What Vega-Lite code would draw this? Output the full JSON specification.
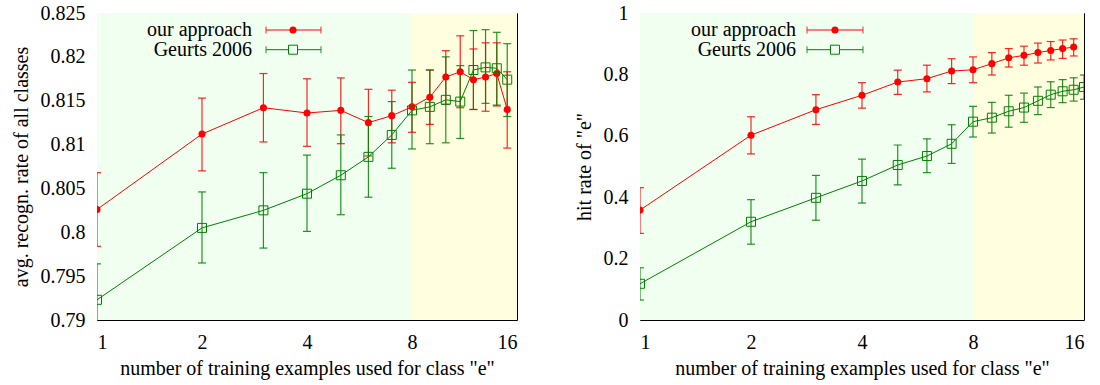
{
  "$schema": "https://vega.github.io/schema/vega-lite/v6.json",
  "background": "white",
  "padding": {"left": 10, "top": 2, "right": 5, "bottom": 5},
  "config": {
    "font": "Liberation Serif",
    "view": {"stroke": "black", "strokeWidth": 1},
    "axis": {"labelFont": "Liberation Serif", "titleFont": "Liberation Serif", "labelFontSize": 20, "titleFontSize": 20, "labelColor": "black", "titleColor": "black", "titleFontWeight": "normal", "grid": false, "domain": false, "ticks": false, "labelPadding": 12},
    "axisY": {"titlePadding": 9},
    "axisX": {"titlePadding": 6}
  },
  "datasets": {
    "bg": [
      {"x": 1, "x1": 8, "zone": "few"},
      {"x": 8, "x1": 16, "zone": "many"}
    ],
    "legend": [
      {"series": "our approach", "rank": 1},
      {"series": "Geurts 2006", "rank": 2}
    ],
    "avg": [
      {"series": "our approach", "x": 1, "y": 0.8026, "lo": 0.7984, "hi": 0.8068},
      {"series": "our approach", "x": 2, "y": 0.8112, "lo": 0.8070, "hi": 0.8153},
      {"series": "our approach", "x": 3, "y": 0.8142, "lo": 0.8103, "hi": 0.8181},
      {"series": "our approach", "x": 4, "y": 0.8136, "lo": 0.8098, "hi": 0.8175},
      {"series": "our approach", "x": 5, "y": 0.8139, "lo": 0.8101, "hi": 0.8176},
      {"series": "our approach", "x": 6, "y": 0.8125, "lo": 0.8087, "hi": 0.8163},
      {"series": "our approach", "x": 7, "y": 0.8133, "lo": 0.8102, "hi": 0.8162},
      {"series": "our approach", "x": 8, "y": 0.8143, "lo": 0.8114, "hi": 0.8171},
      {"series": "our approach", "x": 9, "y": 0.8154, "lo": 0.8123, "hi": 0.8185},
      {"series": "our approach", "x": 10, "y": 0.8177, "lo": 0.8146, "hi": 0.8207},
      {"series": "our approach", "x": 11, "y": 0.8183, "lo": 0.8142, "hi": 0.8224},
      {"series": "our approach", "x": 12, "y": 0.8174, "lo": 0.8140, "hi": 0.8209},
      {"series": "our approach", "x": 13, "y": 0.8177, "lo": 0.8138, "hi": 0.8216},
      {"series": "our approach", "x": 14, "y": 0.8181, "lo": 0.8144, "hi": 0.8216},
      {"series": "our approach", "x": 15, "y": 0.8140, "lo": 0.8096, "hi": 0.8183},
      {"series": "Geurts 2006", "x": 1, "y": 0.7923, "lo": 0.7882, "hi": 0.7964},
      {"series": "Geurts 2006", "x": 2, "y": 0.8005, "lo": 0.7965, "hi": 0.8046},
      {"series": "Geurts 2006", "x": 3, "y": 0.8025, "lo": 0.7982, "hi": 0.8068},
      {"series": "Geurts 2006", "x": 4, "y": 0.8044, "lo": 0.8001, "hi": 0.8088},
      {"series": "Geurts 2006", "x": 5, "y": 0.8065, "lo": 0.8020, "hi": 0.8111},
      {"series": "Geurts 2006", "x": 6, "y": 0.8086, "lo": 0.8040, "hi": 0.8132},
      {"series": "Geurts 2006", "x": 7, "y": 0.8111, "lo": 0.8073, "hi": 0.8149},
      {"series": "Geurts 2006", "x": 8, "y": 0.8139, "lo": 0.8095, "hi": 0.8185},
      {"series": "Geurts 2006", "x": 9, "y": 0.8143, "lo": 0.8101, "hi": 0.8185},
      {"series": "Geurts 2006", "x": 10, "y": 0.8151, "lo": 0.8102, "hi": 0.8200},
      {"series": "Geurts 2006", "x": 11, "y": 0.8149, "lo": 0.8107, "hi": 0.8190},
      {"series": "Geurts 2006", "x": 12, "y": 0.8185, "lo": 0.8140, "hi": 0.8230},
      {"series": "Geurts 2006", "x": 13, "y": 0.8188, "lo": 0.8147, "hi": 0.8231},
      {"series": "Geurts 2006", "x": 14, "y": 0.8187, "lo": 0.8145, "hi": 0.8228},
      {"series": "Geurts 2006", "x": 15, "y": 0.8174, "lo": 0.8132, "hi": 0.8215}
    ],
    "hit": [
      {"series": "our approach", "x": 1, "y": 0.358, "lo": 0.282, "hi": 0.431},
      {"series": "our approach", "x": 2, "y": 0.602, "lo": 0.541, "hi": 0.662},
      {"series": "our approach", "x": 3, "y": 0.685, "lo": 0.637, "hi": 0.734},
      {"series": "our approach", "x": 4, "y": 0.732, "lo": 0.690, "hi": 0.773},
      {"series": "our approach", "x": 5, "y": 0.775, "lo": 0.735, "hi": 0.814},
      {"series": "our approach", "x": 6, "y": 0.786, "lo": 0.743, "hi": 0.830},
      {"series": "our approach", "x": 7, "y": 0.811, "lo": 0.770, "hi": 0.851},
      {"series": "our approach", "x": 8, "y": 0.815, "lo": 0.773, "hi": 0.857},
      {"series": "our approach", "x": 9, "y": 0.835, "lo": 0.798, "hi": 0.871},
      {"series": "our approach", "x": 10, "y": 0.854, "lo": 0.824, "hi": 0.884},
      {"series": "our approach", "x": 11, "y": 0.862, "lo": 0.830, "hi": 0.892},
      {"series": "our approach", "x": 12, "y": 0.871, "lo": 0.837, "hi": 0.902},
      {"series": "our approach", "x": 13, "y": 0.878, "lo": 0.847, "hi": 0.907},
      {"series": "our approach", "x": 14, "y": 0.884, "lo": 0.852, "hi": 0.912},
      {"series": "our approach", "x": 15, "y": 0.889, "lo": 0.860, "hi": 0.916},
      {"series": "Geurts 2006", "x": 1, "y": 0.118, "lo": 0.065, "hi": 0.170},
      {"series": "Geurts 2006", "x": 2, "y": 0.320, "lo": 0.247, "hi": 0.392},
      {"series": "Geurts 2006", "x": 3, "y": 0.398, "lo": 0.325, "hi": 0.471},
      {"series": "Geurts 2006", "x": 4, "y": 0.453, "lo": 0.381, "hi": 0.524},
      {"series": "Geurts 2006", "x": 5, "y": 0.505, "lo": 0.440, "hi": 0.570},
      {"series": "Geurts 2006", "x": 6, "y": 0.534, "lo": 0.480, "hi": 0.590},
      {"series": "Geurts 2006", "x": 7, "y": 0.574, "lo": 0.510, "hi": 0.636},
      {"series": "Geurts 2006", "x": 8, "y": 0.646, "lo": 0.596, "hi": 0.696},
      {"series": "Geurts 2006", "x": 9, "y": 0.659, "lo": 0.609, "hi": 0.709},
      {"series": "Geurts 2006", "x": 10, "y": 0.680, "lo": 0.628, "hi": 0.732},
      {"series": "Geurts 2006", "x": 11, "y": 0.692, "lo": 0.644, "hi": 0.739},
      {"series": "Geurts 2006", "x": 12, "y": 0.714, "lo": 0.669, "hi": 0.759},
      {"series": "Geurts 2006", "x": 13, "y": 0.734, "lo": 0.692, "hi": 0.776},
      {"series": "Geurts 2006", "x": 14, "y": 0.745, "lo": 0.708, "hi": 0.783},
      {"series": "Geurts 2006", "x": 15, "y": 0.750, "lo": 0.713, "hi": 0.789},
      {"series": "Geurts 2006", "x": 16, "y": 0.759, "lo": 0.719, "hi": 0.798}
    ]
  },
  "spacing": 123,
  "bounds": "flush",
  "resolve": {"scale": {"y": "independent", "stroke": "independent", "fill": "independent"}},
  "hconcat": [
    {
      "width": 420,
      "height": 307,
      "resolve": {"scale": {"y": "independent"}},
      "layer": [
        {
          "data": {"name": "avg"},
          "layer": [
            {"data": {"name": "bg"}, "transform": [{"filter": "datum.zone === 'few'"}], "mark": {"type": "rect", "fill": "#f0fff0"}, "encoding": {"x": {"field": "x", "type": "quantitative", "title": "number of training examples used for class \"e\"", "scale": {"type": "log", "base": 2, "domain": [1, 16], "nice": false}, "axis": {"values": [1, 2, 4, 8, 16], "format": "d"}}, "x2": {"field": "x1"}}},
            {"data": {"name": "bg"}, "transform": [{"filter": "datum.zone === 'many'"}], "mark": {"type": "rect", "fill": "#ffffe0"}, "encoding": {"x": {"field": "x", "type": "quantitative", "title": "number of training examples used for class \"e\"", "scale": {"type": "log", "base": 2, "domain": [1, 16], "nice": false}}, "x2": {"field": "x1"}}},
            {"mark": {"type": "rule", "clip": true, "opacity": 0.85, "strokeWidth": 1.2}, "encoding": {"x": {"field": "x", "type": "quantitative", "title": "number of training examples used for class \"e\""}, "y": {"field": "lo", "type": "quantitative", "title": "avg. recogn. rate of all classes", "scale": {"domain": [0.79, 0.825], "nice": false, "zero": false}, "axis": {"values": [0.79, 0.795, 0.8, 0.805, 0.81, 0.815, 0.82, 0.825], "format": "~g"}}, "y2": {"field": "hi"}, "stroke": {"field": "series", "type": "nominal", "scale": {"domain": ["our approach", "Geurts 2006"], "range": ["#ff0000", "#008000"]}, "legend": null}}},
            {"mark": {"type": "tick", "orient": "horizontal", "clip": true, "opacity": 0.85, "thickness": 1.2}, "encoding": {"x": {"field": "x", "type": "quantitative", "title": "number of training examples used for class \"e\""}, "y": {"field": "lo", "type": "quantitative", "title": "avg. recogn. rate of all classes", "scale": {"domain": [0.79, 0.825], "nice": false, "zero": false}}, "size": {"value": 8}, "fill": {"field": "series", "type": "nominal", "scale": {"domain": ["our approach", "Geurts 2006"], "range": ["#ff0000", "#008000"]}, "legend": null}}},
            {"mark": {"type": "tick", "orient": "horizontal", "clip": true, "opacity": 0.85, "thickness": 1.2}, "encoding": {"x": {"field": "x", "type": "quantitative", "title": "number of training examples used for class \"e\""}, "y": {"field": "hi", "type": "quantitative", "title": "avg. recogn. rate of all classes", "scale": {"domain": [0.79, 0.825], "nice": false, "zero": false}}, "size": {"value": 8}, "fill": {"field": "series", "type": "nominal", "scale": {"domain": ["our approach", "Geurts 2006"], "range": ["#ff0000", "#008000"]}, "legend": null}}},
            {"mark": {"type": "line", "clip": true, "strokeWidth": 1}, "encoding": {"x": {"field": "x", "type": "quantitative", "title": "number of training examples used for class \"e\""}, "y": {"field": "y", "type": "quantitative", "title": "avg. recogn. rate of all classes", "scale": {"domain": [0.79, 0.825], "nice": false, "zero": false}}, "stroke": {"field": "series", "type": "nominal", "scale": {"domain": ["our approach", "Geurts 2006"], "range": ["#ff0000", "#008000"]}, "legend": null}}},
            {"transform": [{"filter": "datum.series === 'our approach'"}], "mark": {"type": "point", "shape": "circle", "filled": true, "color": "#ff0000", "size": 50, "opacity": 1, "clip": true}, "encoding": {"x": {"field": "x", "type": "quantitative", "title": "number of training examples used for class \"e\""}, "y": {"field": "y", "type": "quantitative", "title": "avg. recogn. rate of all classes", "scale": {"domain": [0.79, 0.825], "nice": false, "zero": false}}}},
            {"transform": [{"filter": "datum.series === 'Geurts 2006'"}], "mark": {"type": "point", "shape": "square", "filled": false, "color": "#008000", "size": 81, "strokeWidth": 1, "opacity": 1, "clip": true}, "encoding": {"x": {"field": "x", "type": "quantitative", "title": "number of training examples used for class \"e\""}, "y": {"field": "y", "type": "quantitative", "title": "avg. recogn. rate of all classes", "scale": {"domain": [0.79, 0.825], "nice": false, "zero": false}}}}
          ]
        },
        {
          "data": {"name": "legend"},
          "layer": [
            {"mark": {"type": "text", "align": "right", "baseline": "middle", "font": "Liberation Serif", "fontSize": 20, "color": "black"}, "encoding": {"x": {"datum": 2.782, "type": "quantitative"}, "y": {"field": "rank", "type": "quantitative", "scale": {"domain": [0.137, 15.721], "reverse": true, "nice": false, "zero": false}, "axis": null}, "text": {"field": "series"}}},
            {"mark": {"type": "rule", "strokeWidth": 1}, "encoding": {"x": {"datum": 3.052, "type": "quantitative"}, "x2": {"datum": 4.387}, "y": {"field": "rank", "type": "quantitative", "scale": {"domain": [0.137, 15.721], "reverse": true, "nice": false, "zero": false}, "axis": null}, "stroke": {"field": "series", "type": "nominal", "scale": {"domain": ["our approach", "Geurts 2006"], "range": ["#ff0000", "#008000"]}, "legend": null}}},
            {"mark": {"type": "tick", "orient": "vertical", "thickness": 1.2}, "encoding": {"x": {"datum": 3.052, "type": "quantitative"}, "y": {"field": "rank", "type": "quantitative", "scale": {"domain": [0.137, 15.721], "reverse": true, "nice": false, "zero": false}, "axis": null}, "size": {"value": 7}, "fill": {"field": "series", "type": "nominal", "scale": {"domain": ["our approach", "Geurts 2006"], "range": ["#ff0000", "#008000"]}, "legend": null}}},
            {"mark": {"type": "tick", "orient": "vertical", "thickness": 1.2}, "encoding": {"x": {"datum": 4.387, "type": "quantitative"}, "y": {"field": "rank", "type": "quantitative", "scale": {"domain": [0.137, 15.721], "reverse": true, "nice": false, "zero": false}, "axis": null}, "size": {"value": 7}, "fill": {"field": "series", "type": "nominal", "scale": {"domain": ["our approach", "Geurts 2006"], "range": ["#ff0000", "#008000"]}, "legend": null}}},
            {"transform": [{"filter": "datum.series === 'our approach'"}], "mark": {"type": "point", "shape": "circle", "filled": true, "color": "#ff0000", "size": 50, "opacity": 1}, "encoding": {"x": {"datum": 3.647, "type": "quantitative"}, "y": {"field": "rank", "type": "quantitative", "scale": {"domain": [0.137, 15.721], "reverse": true, "nice": false, "zero": false}, "axis": null}}},
            {"transform": [{"filter": "datum.series === 'Geurts 2006'"}], "mark": {"type": "point", "shape": "square", "filled": true, "fill": "#f0fff0", "stroke": "#008000", "size": 81, "strokeWidth": 1, "opacity": 1}, "encoding": {"x": {"datum": 3.647, "type": "quantitative"}, "y": {"field": "rank", "type": "quantitative", "scale": {"domain": [0.137, 15.721], "reverse": true, "nice": false, "zero": false}, "axis": null}}}
          ]
        }
      ]
    },
    {
      "width": 444,
      "height": 307,
      "resolve": {"scale": {"y": "independent"}},
      "layer": [
        {
          "data": {"name": "hit"},
          "layer": [
            {"data": {"name": "bg"}, "transform": [{"filter": "datum.zone === 'few'"}], "mark": {"type": "rect", "fill": "#f0fff0"}, "encoding": {"x": {"field": "x", "type": "quantitative", "title": "number of training examples used for class \"e\"", "scale": {"type": "log", "base": 2, "domain": [1, 16], "nice": false}, "axis": {"values": [1, 2, 4, 8, 16], "format": "d"}}, "x2": {"field": "x1"}}},
            {"data": {"name": "bg"}, "transform": [{"filter": "datum.zone === 'many'"}], "mark": {"type": "rect", "fill": "#ffffe0"}, "encoding": {"x": {"field": "x", "type": "quantitative", "title": "number of training examples used for class \"e\"", "scale": {"type": "log", "base": 2, "domain": [1, 16], "nice": false}}, "x2": {"field": "x1"}}},
            {"mark": {"type": "rule", "clip": true, "opacity": 0.85, "strokeWidth": 1.2}, "encoding": {"x": {"field": "x", "type": "quantitative", "title": "number of training examples used for class \"e\""}, "y": {"field": "lo", "type": "quantitative", "title": "hit rate of \"e\"", "scale": {"domain": [0, 1], "nice": false, "zero": false}, "axis": {"values": [0, 0.2, 0.4, 0.6, 0.8, 1], "format": "~g"}}, "y2": {"field": "hi"}, "stroke": {"field": "series", "type": "nominal", "scale": {"domain": ["our approach", "Geurts 2006"], "range": ["#ff0000", "#008000"]}, "legend": null}}},
            {"mark": {"type": "tick", "orient": "horizontal", "clip": true, "opacity": 0.85, "thickness": 1.2}, "encoding": {"x": {"field": "x", "type": "quantitative", "title": "number of training examples used for class \"e\""}, "y": {"field": "lo", "type": "quantitative", "title": "hit rate of \"e\"", "scale": {"domain": [0, 1], "nice": false, "zero": false}}, "size": {"value": 8}, "fill": {"field": "series", "type": "nominal", "scale": {"domain": ["our approach", "Geurts 2006"], "range": ["#ff0000", "#008000"]}, "legend": null}}},
            {"mark": {"type": "tick", "orient": "horizontal", "clip": true, "opacity": 0.85, "thickness": 1.2}, "encoding": {"x": {"field": "x", "type": "quantitative", "title": "number of training examples used for class \"e\""}, "y": {"field": "hi", "type": "quantitative", "title": "hit rate of \"e\"", "scale": {"domain": [0, 1], "nice": false, "zero": false}}, "size": {"value": 8}, "fill": {"field": "series", "type": "nominal", "scale": {"domain": ["our approach", "Geurts 2006"], "range": ["#ff0000", "#008000"]}, "legend": null}}},
            {"mark": {"type": "line", "clip": true, "strokeWidth": 1}, "encoding": {"x": {"field": "x", "type": "quantitative", "title": "number of training examples used for class \"e\""}, "y": {"field": "y", "type": "quantitative", "title": "hit rate of \"e\"", "scale": {"domain": [0, 1], "nice": false, "zero": false}}, "stroke": {"field": "series", "type": "nominal", "scale": {"domain": ["our approach", "Geurts 2006"], "range": ["#ff0000", "#008000"]}, "legend": null}}},
            {"transform": [{"filter": "datum.series === 'our approach'"}], "mark": {"type": "point", "shape": "circle", "filled": true, "color": "#ff0000", "size": 50, "opacity": 1, "clip": true}, "encoding": {"x": {"field": "x", "type": "quantitative", "title": "number of training examples used for class \"e\""}, "y": {"field": "y", "type": "quantitative", "title": "hit rate of \"e\"", "scale": {"domain": [0, 1], "nice": false, "zero": false}}}},
            {"transform": [{"filter": "datum.series === 'Geurts 2006'"}], "mark": {"type": "point", "shape": "square", "filled": false, "color": "#008000", "size": 81, "strokeWidth": 1, "opacity": 1, "clip": true}, "encoding": {"x": {"field": "x", "type": "quantitative", "title": "number of training examples used for class \"e\""}, "y": {"field": "y", "type": "quantitative", "title": "hit rate of \"e\"", "scale": {"domain": [0, 1], "nice": false, "zero": false}}}}
          ]
        },
        {
          "data": {"name": "legend"},
          "layer": [
            {"mark": {"type": "text", "align": "right", "baseline": "middle", "font": "Liberation Serif", "fontSize": 20, "color": "black"}, "encoding": {"x": {"datum": 2.649, "type": "quantitative"}, "y": {"field": "rank", "type": "quantitative", "scale": {"domain": [0.137, 15.721], "reverse": true, "nice": false, "zero": false}, "axis": null}, "text": {"field": "series"}}},
            {"mark": {"type": "rule", "strokeWidth": 1}, "encoding": {"x": {"datum": 2.837, "type": "quantitative"}, "x2": {"datum": 4.025}, "y": {"field": "rank", "type": "quantitative", "scale": {"domain": [0.137, 15.721], "reverse": true, "nice": false, "zero": false}, "axis": null}, "stroke": {"field": "series", "type": "nominal", "scale": {"domain": ["our approach", "Geurts 2006"], "range": ["#ff0000", "#008000"]}, "legend": null}}},
            {"mark": {"type": "tick", "orient": "vertical", "thickness": 1.2}, "encoding": {"x": {"datum": 2.837, "type": "quantitative"}, "y": {"field": "rank", "type": "quantitative", "scale": {"domain": [0.137, 15.721], "reverse": true, "nice": false, "zero": false}, "axis": null}, "size": {"value": 7}, "fill": {"field": "series", "type": "nominal", "scale": {"domain": ["our approach", "Geurts 2006"], "range": ["#ff0000", "#008000"]}, "legend": null}}},
            {"mark": {"type": "tick", "orient": "vertical", "thickness": 1.2}, "encoding": {"x": {"datum": 4.025, "type": "quantitative"}, "y": {"field": "rank", "type": "quantitative", "scale": {"domain": [0.137, 15.721], "reverse": true, "nice": false, "zero": false}, "axis": null}, "size": {"value": 7}, "fill": {"field": "series", "type": "nominal", "scale": {"domain": ["our approach", "Geurts 2006"], "range": ["#ff0000", "#008000"]}, "legend": null}}},
            {"transform": [{"filter": "datum.series === 'our approach'"}], "mark": {"type": "point", "shape": "circle", "filled": true, "color": "#ff0000", "size": 50, "opacity": 1}, "encoding": {"x": {"datum": 3.379, "type": "quantitative"}, "y": {"field": "rank", "type": "quantitative", "scale": {"domain": [0.137, 15.721], "reverse": true, "nice": false, "zero": false}, "axis": null}}},
            {"transform": [{"filter": "datum.series === 'Geurts 2006'"}], "mark": {"type": "point", "shape": "square", "filled": true, "fill": "#f0fff0", "stroke": "#008000", "size": 81, "strokeWidth": 1, "opacity": 1}, "encoding": {"x": {"datum": 3.379, "type": "quantitative"}, "y": {"field": "rank", "type": "quantitative", "scale": {"domain": [0.137, 15.721], "reverse": true, "nice": false, "zero": false}, "axis": null}}}
          ]
        }
      ]
    }
  ]
}
